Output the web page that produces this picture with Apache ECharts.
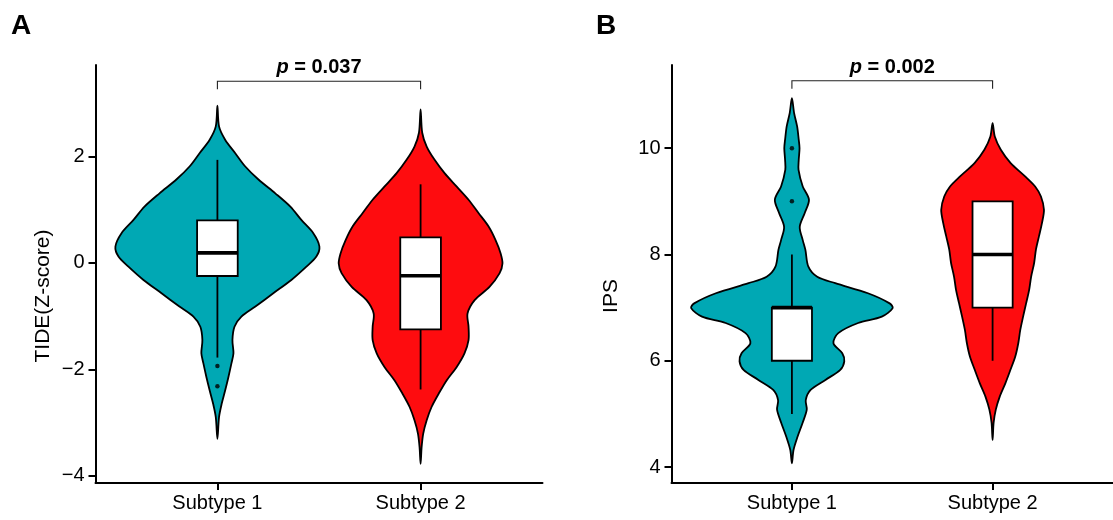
<!DOCTYPE html>
<html>
<head>
<meta charset="utf-8">
<script src="https://cdn.jsdelivr.net/npm/echarts@6/dist/echarts.min.js"></script>
<style>
  html, body { margin: 0; padding: 0; background: #fff; }
  #chart { width: 1113px; height: 520px; }
</style>
</head>
<body>
<div id="chart"></div>
<script>
// Group labels on the x axis
const groups = ['Subtype 1', 'Subtype 2'];

// Tick values of the two y axes
const tideTicks = [-4, -2, 0, 2];
const ipsTicks = [4, 6, 8, 10];

// Violin outlines: sampled score and half-width of the density (x-axis units)
const tideY1 = [2.96, 2.57, 2.32, 2.07, 1.82, 1.57, 1.31, 1.06, 0.81, 0.56, 0.31, 0.12, -0.07, -0.32, -0.57, -0.82, -1.01, -1.20, -1.45, -1.70, -1.89, -2.15, -2.40, -2.65, -2.90, -3.31];
const tideW1 = [0, 0.008, 0.038, 0.087, 0.136, 0.202, 0.285, 0.359, 0.413, 0.472, 0.502, 0.487, 0.438, 0.364, 0.275, 0.187, 0.118, 0.084, 0.074, 0.079, 0.069, 0.054, 0.038, 0.021, 0.008, 0];

const tideY2 = [2.89, 2.45, 2.19, 1.94, 1.69, 1.44, 1.19, 0.94, 0.69, 0.43, 0.18, -0.01, -0.19, -0.45, -0.70, -0.95, -1.20, -1.45, -1.70, -1.96, -2.21, -2.46, -2.71, -2.96, -3.21, -3.47, -3.78];
const tideW2 = [0, 0.008, 0.030, 0.069, 0.118, 0.177, 0.236, 0.285, 0.334, 0.369, 0.394, 0.403, 0.389, 0.339, 0.266, 0.231, 0.236, 0.236, 0.216, 0.177, 0.128, 0.089, 0.054, 0.030, 0.013, 0.005, 0];

const ipsY1 = [10.94, 10.66, 10.41, 10.16, 10.00, 9.78, 9.59, 9.28, 9.03, 8.78, 8.52, 8.27, 8.09, 7.77, 7.58, 7.46, 7.27, 7.08, 6.99, 6.83, 6.71, 6.52, 6.33, 6.14, 5.99, 5.83, 5.64, 5.45, 5.26, 5.08, 4.83, 4.57, 4.32, 4.07];
const ipsW1 = [0, 0.011, 0.026, 0.034, 0.038, 0.034, 0.033, 0.054, 0.085, 0.064, 0.039, 0.054, 0.067, 0.082, 0.126, 0.216, 0.379, 0.487, 0.502, 0.448, 0.330, 0.231, 0.207, 0.251, 0.261, 0.241, 0.167, 0.093, 0.069, 0.074, 0.053, 0.028, 0.008, 0];

const ipsY2 = [10.47, 10.22, 9.97, 9.72, 9.47, 9.28, 9.09, 8.84, 8.59, 8.34, 8.09, 7.84, 7.58, 7.33, 7.08, 6.83, 6.58, 6.33, 6.08, 5.83, 5.58, 5.33, 5.08, 4.83, 4.51];
const ipsW2 = [0, 0.011, 0.041, 0.090, 0.162, 0.212, 0.241, 0.256, 0.246, 0.231, 0.216, 0.207, 0.192, 0.182, 0.167, 0.152, 0.138, 0.128, 0.113, 0.089, 0.064, 0.036, 0.016, 0.005, 0];

// Box statistics: [lower whisker, Q1, median, Q3, upper whisker]
const tideBox1 = [-1.78, -0.245, 0.19, 0.80, 1.94];
const tideBox2 = [-2.38, -1.25, -0.24, 0.48, 1.48];
const ipsBox1 = [5, 6, 7, 7, 8];
const ipsBox2 = [6, 7, 8, 9, 9];

// Outlying observations
const tideOut1 = [-1.94, -2.32];
const ipsOut1 = [9, 10];

// Wilcoxon p-values shown above each panel
const pTide = '0.037';
const pIps = '0.002';

const FONT = 'Liberation Sans, Arial, sans-serif';
const TEAL = '#00A8B4';
const RED = '#FE0C0F';
const BOX_HALF = 0.1;
const LABEL_SIZE = 20;
const TITLE_SIZE = 21;

const minusFmt = v => (v < 0 ? '\u2212' + Math.abs(v) : String(v));

function violin(xi, pos, ys, ws, color) {
  return {
    type: 'custom', xAxisIndex: xi, yAxisIndex: xi, silent: true, z: 2,
    data: [[pos]],
    renderItem: (params, api) => {
      const cx = api.value(0);
      const n = ys.length;
      const pts = [];
      for (let i = 0; i < n; i++) pts.push(api.coord([cx + ws[i], ys[i]]));
      for (let i = n - 2; i >= 1; i--) pts.push(api.coord([cx - ws[i], ys[i]]));
      return {
        type: 'polygon',
        shape: { points: pts, smooth: 0.3 },
        style: { fill: color, stroke: '#000', lineWidth: 1.8 }
      };
    }
  };
}

function box(xi, pos, stats) {
  return {
    type: 'custom', xAxisIndex: xi, yAxisIndex: xi, silent: true, z: 3,
    data: [[pos].concat(stats)],
    renderItem: (params, api) => {
      const c = api.value(0);
      const lo = api.value(1), q1 = api.value(2), med = api.value(3), q3 = api.value(4), hi = api.value(5);
      const pLo = api.coord([c, lo]), pQ1 = api.coord([c, q1]);
      const pQ3 = api.coord([c, q3]), pHi = api.coord([c, hi]);
      const tl = api.coord([c - BOX_HALF, q3]), br = api.coord([c + BOX_HALF, q1]);
      const ml = api.coord([c - BOX_HALF, med]), mr = api.coord([c + BOX_HALF, med]);
      const line = { stroke: '#000', lineWidth: 1.8 };
      return {
        type: 'group',
        children: [
          { type: 'line', shape: { x1: pQ3[0], y1: pQ3[1], x2: pHi[0], y2: pHi[1] }, style: line },
          { type: 'line', shape: { x1: pQ1[0], y1: pQ1[1], x2: pLo[0], y2: pLo[1] }, style: line },
          { type: 'rect', shape: { x: tl[0], y: tl[1], width: br[0] - tl[0], height: br[1] - tl[1] },
            style: { fill: '#fff', stroke: '#000', lineWidth: 1.8 } },
          { type: 'line', shape: { x1: ml[0], y1: ml[1], x2: mr[0], y2: mr[1] },
            style: { stroke: '#000', lineWidth: 3.6 } }
        ]
      };
    }
  };
}

function outliers(xi, pos, vals) {
  return {
    type: 'scatter', xAxisIndex: xi, yAxisIndex: xi, silent: true, z: 4,
    symbol: 'circle', symbolSize: 4.5,
    itemStyle: { color: '#000' },
    data: vals.map(v => [pos, v])
  };
}

function bracket(xi, pText, yLine, yTip, yText) {
  return {
    type: 'custom', xAxisIndex: xi, yAxisIndex: xi, silent: true, z: 5, clip: false,
    data: [[1, 2]],
    renderItem: (params, api) => {
      const x1 = api.value(0), x2 = api.value(1);
      const a = api.coord([x1, yTip]), b = api.coord([x1, yLine]);
      const c = api.coord([x2, yLine]), d = api.coord([x2, yTip]);
      const t = api.coord([(x1 + x2) / 2, yText]);
      return {
        type: 'group',
        children: [
          { type: 'polyline', shape: { points: [a, b, c, d] },
            style: { stroke: '#222', lineWidth: 1.1, fill: null } },
          { type: 'text', x: t[0], y: t[1],
            style: {
              text: '{i|p} = ' + pText,
              rich: { i: { fontStyle: 'italic', fontWeight: 'bold', fontSize: LABEL_SIZE, fontFamily: FONT, fill: '#000' } },
              fontSize: LABEL_SIZE, fontWeight: 'bold', fontFamily: FONT, fill: '#000',
              align: 'center', verticalAlign: 'middle'
            } }
        ]
      };
    }
  };
}

function xAxisCfg(gi) {
  return {
    type: 'value', gridIndex: gi, min: 0.4, max: 2.6,
    splitLine: { show: false },
    axisLine: { onZero: false, lineStyle: { color: '#000', width: 2 } },
    axisTick: { customValues: [1, 2], length: 7, lineStyle: { color: '#000', width: 2 } },
    axisLabel: {
      customValues: [1, 2], margin: 10,
      formatter: v => groups[Math.round(v) - 1] || '',
      color: '#000', fontSize: LABEL_SIZE, fontFamily: FONT
    }
  };
}

function yAxisCfg(gi, min, max, ticks, name, gap) {
  return {
    type: 'value', gridIndex: gi, min: min, max: max,
    name: name, nameLocation: 'middle', nameGap: gap,
    // extra right padding moves the rotated title a little below the axis middle
    nameTextStyle: { color: '#000', fontSize: TITLE_SIZE, fontFamily: FONT, padding: [0, 44, 0, 0] },
    splitLine: { show: false },
    axisLine: { show: true, onZero: false, lineStyle: { color: '#000', width: 2 } },
    axisTick: { show: true, customValues: ticks, length: 7, lineStyle: { color: '#000', width: 2 } },
    axisLabel: { customValues: ticks, margin: 11, formatter: minusFmt, color: '#000', fontSize: LABEL_SIZE, fontFamily: FONT }
  };
}

const chart = echarts.init(document.getElementById('chart'), null, { renderer: 'canvas' });
chart.setOption({
  backgroundColor: '#fff',
  animation: false,
  title: [
    { text: 'A', left: 11, top: 12, padding: 0, textStyle: { fontSize: 28, fontWeight: 'bold', fontFamily: FONT, color: '#000' } },
    { text: 'B', left: 596, top: 12, padding: 0, textStyle: { fontSize: 28, fontWeight: 'bold', fontFamily: FONT, color: '#000' } }
  ],
  grid: [
    { left: 95.5, top: 65, width: 447, height: 418 },
    { left: 671.5, top: 65, width: 447, height: 418 }
  ],
  xAxis: [xAxisCfg(0), xAxisCfg(1)],
  yAxis: [
    yAxisCfg(0, -4.14, 3.725, tideTicks, 'TIDE(Z-score)', 42),
    yAxisCfg(1, 3.70, 11.565, ipsTicks, 'IPS', 50)
  ],
  series: [
    violin(0, 1, tideY1, tideW1, TEAL),
    violin(0, 2, tideY2, tideW2, RED),
    box(0, 1, tideBox1),
    box(0, 2, tideBox2),
    outliers(0, 1, tideOut1),
    bracket(0, pTide, 3.42, 3.27, 3.67),
    violin(1, 1, ipsY1, ipsW1, TEAL),
    violin(1, 2, ipsY2, ipsW2, RED),
    box(1, 1, ipsBox1),
    box(1, 2, ipsBox2),
    outliers(1, 1, ipsOut1),
    bracket(1, pIps, 11.27, 11.12, 11.51)
  ]
});
</script>
</body>
</html>
